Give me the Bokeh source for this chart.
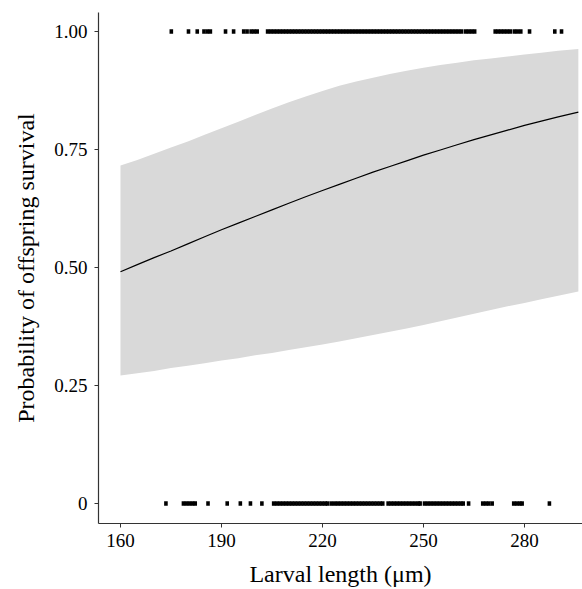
from bokeh.plotting import figure
from bokeh.models import Range1d, FixedTicker
from bokeh.embed import file_html
from bokeh.resources import INLINE

# fitted curve and 95% band
grid_x = [160, 165, 170, 175, 180, 185, 190, 195, 200, 205, 210, 215, 220, 225, 230, 235, 240,
          245, 250, 255, 260, 265, 270, 275, 280, 285, 290, 296]
fit_y = [0.491, 0.506, 0.521, 0.535, 0.550, 0.565, 0.580, 0.594, 0.608, 0.622, 0.636, 0.650,
         0.663, 0.676, 0.689, 0.702, 0.714, 0.726, 0.738, 0.749, 0.760, 0.771, 0.781, 0.791,
         0.801, 0.810, 0.819, 0.829]
upper_y = [0.716, 0.728, 0.741, 0.754, 0.767, 0.781, 0.795, 0.809, 0.823, 0.837, 0.850, 0.862,
           0.874, 0.885, 0.894, 0.902, 0.910, 0.917, 0.923, 0.929, 0.934, 0.939, 0.943, 0.947,
           0.951, 0.955, 0.959, 0.963]
lower_y = [0.271, 0.276, 0.281, 0.287, 0.292, 0.297, 0.303, 0.308, 0.314, 0.319, 0.325, 0.331,
           0.337, 0.343, 0.350, 0.357, 0.364, 0.371, 0.378, 0.386, 0.394, 0.402, 0.410, 0.418,
           0.425, 0.433, 0.440, 0.449]

# observed larval lengths of surviving (1) and non-surviving (0) offspring
survived_x = [175.1, 180.2, 182.8, 184.8, 185.8, 186.7, 191.2, 193.6, 196.6, 197.6, 198.8, 199.7, 200.6,
              203.7, 204.6, 205.5, 206.4, 207.3, 208.2, 209.1, 210.0, 210.9, 211.8, 212.7, 213.6, 214.5,
              215.4, 216.3, 217.2, 218.1, 219.0, 219.9, 220.8, 221.7, 222.6, 223.5, 224.4, 225.3, 226.2,
              227.1, 228.0, 228.9, 229.8, 230.7, 231.6, 232.5, 233.4, 234.3, 235.2, 236.1, 237.0, 237.9,
              238.8, 239.7, 240.6, 241.5, 242.4, 243.3, 244.2, 245.1, 246.0, 246.9, 247.8, 248.7, 249.6,
              250.5, 251.4, 252.3, 253.2, 254.1, 255.0, 255.9, 256.8, 257.7, 258.6, 259.5, 260.4, 261.3,
              262.5, 263.4, 264.3, 265.2, 271.3, 272.2, 273.1, 274.0, 274.9, 275.8, 277.0, 277.9, 278.9,
              281.5, 289.0, 291.0]
died_x = [173.5, 178.7, 179.6, 180.5, 181.4, 182.2, 186.0, 191.7, 195.6, 198.6, 202.0,
          205.5, 206.4, 207.3, 208.2, 209.1, 210.0, 210.9, 211.8, 212.7, 213.6, 214.5, 215.4, 216.3,
          217.2, 218.1, 219.0, 219.9, 220.8, 221.5, 222.6,
          223.6, 224.5, 225.4, 226.3, 227.2, 228.1, 229.0, 229.9, 230.8, 231.7, 232.6, 233.5, 234.4,
          235.3, 236.2, 237.1, 237.9,
          239.5, 240.4, 241.3, 242.2, 243.1, 244.0, 244.9, 245.8, 246.7, 247.6, 248.5, 249.0,
          250.3, 251.2, 252.1, 253.0, 253.9, 254.8, 255.7, 256.6, 257.5, 258.4, 259.3, 260.2, 261.1, 261.8,
          263.4, 267.6, 268.5, 269.4, 270.4, 276.8, 277.7, 278.6, 279.3, 287.4]
survived_val = 1
died_val = 0

x_ticks = [160, 190, 220, 250, 280]
y_ticks = [0, 0.25, 0.5, 0.75, 1.0]
y_tick_labels = ["0", "0.25", "0.50", "0.75", "1.00"]

FONT = "Liberation Serif"
AX = "#333333"

p = figure(width=582, height=589, output_backend="svg", toolbar_location=None,
           x_range=Range1d(153.47, 297.23), y_range=Range1d(-0.0423, 1.0402),
           min_border_left=98, min_border_right=0, min_border_top=12, min_border_bottom=65,
           background_fill_color="white", border_fill_color="white")
p.outline_line_color = None
p.xgrid.visible = False
p.ygrid.visible = False

p.varea(x=grid_x, y1=lower_y, y2=upper_y, fill_color="#d9d9d9", fill_alpha=1.0)
p.line(grid_x, fit_y, line_color="black", line_width=1.2)

p.rect(survived_x, [survived_val] * len(survived_x), width=3.6, height=4.5,
       width_units="screen", height_units="screen", fill_color="black", line_color=None)
p.rect(died_x, [died_val] * len(died_x), width=3.6, height=4.5,
       width_units="screen", height_units="screen", fill_color="black", line_color=None)

for ax in (p.xaxis[0], p.yaxis[0]):
    ax.axis_line_color = AX
    ax.axis_line_width = 1.2
    ax.major_tick_line_color = AX
    ax.major_tick_in = 0
    ax.major_tick_out = 4
    ax.minor_tick_line_color = None
    ax.major_label_text_font = FONT
    ax.major_label_text_font_size = "19px"
    ax.major_label_text_color = "black"
    ax.axis_label_text_font = FONT
    ax.axis_label_text_font_size = "24px"
    ax.axis_label_text_font_style = "normal"
    ax.axis_label_text_color = "black"

p.xaxis.ticker = FixedTicker(ticks=x_ticks)
p.yaxis.ticker = FixedTicker(ticks=y_ticks)
p.yaxis.major_label_overrides = {t: l for t, l in zip(y_ticks, y_tick_labels)}
p.xaxis.axis_label = "Larval length (μm)"
p.yaxis.axis_label = "Probability of offspring survival"
p.xaxis.major_label_standoff = 6
p.yaxis.major_label_standoff = 7
p.xaxis.axis_label_standoff = 11
p.yaxis.axis_label_standoff = 12

open("out.html", "w").write(file_html(p, INLINE))
